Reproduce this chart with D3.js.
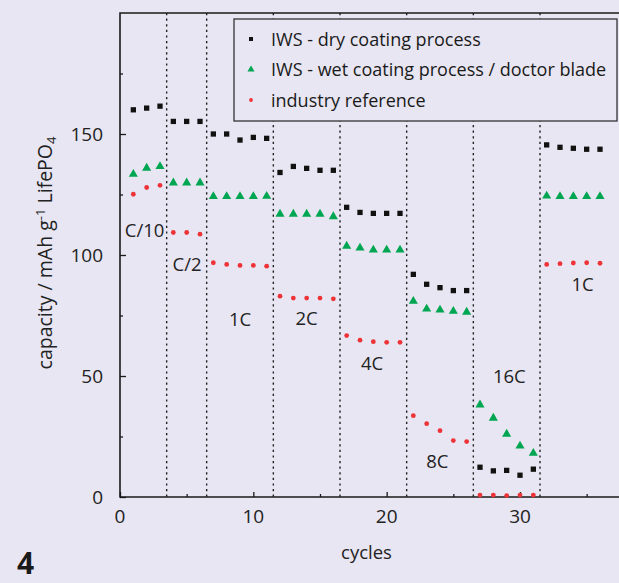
<!DOCTYPE html>
<html>
<head>
<meta charset="utf-8">
<script src="https://cdn.jsdelivr.net/npm/d3@7"></script>
<style>
  body { margin: 0; background: #e8e6f2; }
  svg { display: block; font-family: "Open Sans", sans-serif; }
  .axis path, .axis line { stroke: #1a1a1a; }
</style>
</head>
<body>
<script>
// cycles 1..36, rate steps
var cycles = d3.range(1, 37);
var dryCoating = [160, 160.7, 161.5, 155.2, 155.2, 155.2, 150, 150, 147.5, 148.6, 148.2,
  134.1, 136.6, 135.8, 135, 135, 119.7, 117.6, 117.2, 117.2, 117.2,
  92, 87.9, 86.5, 85.3, 85.3, 12.3, 10.8, 11, 9, 11.5,
  145.5, 144.5, 144.1, 143.7, 143.7];
var wetCoating = [133.4, 135.9, 136.6, 129.8, 129.8, 129.8, 124.2, 124.2, 124.2, 124.2, 124.3,
  116.9, 116.9, 116.9, 116.9, 115.9, 103.7, 102.9, 102.1, 102.1, 102.1,
  80.9, 77.7, 77.3, 76.8, 76.4, 38.1, 32.6, 26, 21.1, 18.1,
  124.4, 124.2, 124.2, 124.2, 124.2];
var industryRef = [125.1, 127.9, 128.8, 109.3, 109.3, 108.6, 96.8, 96.1, 95.7, 95.7, 95.4,
  83.0, 82.2, 82.2, 82.2, 81.9, 66.7, 64.8, 64.2, 63.9, 63.9,
  33.6, 30.3, 27.4, 23.3, 22.9, 0.8, 0.8, 0.6, 0.8, 0.8,
  96.1, 96.4, 96.7, 96.8, 96.6];
var stepBounds = [3.5, 6.5, 11.5, 16.5, 21.5, 26.5, 31.5];
var rateLabels = ["C/10", "C/2", "1C", "2C", "4C", "8C", "16C", "1C"];
var rateLabelX = [1.84, 5.03, 9.0, 14.0, 18.9, 23.8, 29.2, 34.7];
var rateLabelY = [107.3, 93.2, 70.5, 70.9, 52.6, 12.0, 47.2, 85.0];
var xTicks = [0, 10, 20, 30];
var xMinor = [5, 15, 25, 35];
var yTicks = [0, 50, 100, 150];
var yMinor = [25, 75, 125, 175];
var seriesNames = ["IWS - dry coating process", "IWS - wet coating process / doctor blade", "industry reference"];

var W = 619, H = 583;
var margin = {top: 13, left: 120, bottom: 86};

var xScale = d3.scaleLinear().domain([0, 37.5]).range([margin.left, 620]);
var yScale = d3.scaleLinear().domain([0, 200]).range([H - margin.bottom, margin.top]);

var svg = d3.select("body").append("svg")
  .attr("width", W)
  .attr("height", H);

svg.append("rect").attr("width", W).attr("height", H).attr("fill", "#e8e6f2");

// step separators
svg.selectAll(".step")
  .data(stepBounds)
  .enter().append("line")
  .attr("class", "step")
  .attr("x1", function(d) { return xScale(d); })
  .attr("x2", function(d) { return xScale(d); })
  .attr("y1", yScale(200))
  .attr("y2", yScale(0))
  .attr("stroke", "#222")
  .attr("stroke-width", 1.4)
  .attr("stroke-dasharray", "2.2,3.4");

// axes, ticks inward
var xAxis = d3.axisTop(xScale).tickValues(xTicks).tickSize(5).tickFormat("");
var xAxisMinor = d3.axisTop(xScale).tickValues(xMinor).tickSize(3).tickFormat("");
var yAxis = d3.axisRight(yScale).tickValues(yTicks).tickSize(6).tickFormat("");
var yAxisMinor = d3.axisRight(yScale).tickValues(yMinor).tickSize(3).tickFormat("");

var gx = svg.append("g").attr("class", "axis").attr("transform", "translate(0," + yScale(0) + ")");
gx.call(xAxis);
gx.append("g").call(xAxisMinor);
gx.selectAll("path").remove();
gx.selectAll("line").attr("stroke-width", 1.3);

var gy = svg.append("g").attr("class", "axis").attr("transform", "translate(" + xScale(0) + ",0)");
gy.call(yAxis);
gy.append("g").call(yAxisMinor);
gy.selectAll("path").remove();
gy.selectAll("line").attr("stroke-width", 1.3);

// frame lines
svg.append("path")
  .attr("d", "M" + W + "," + yScale(200) + "H" + xScale(0) + "V" + yScale(0) + "H" + W)
  .attr("fill", "none")
  .attr("stroke", "#1a1a1a")
  .attr("stroke-width", 1.6);

// tick labels
svg.selectAll(".xlab")
  .data(xTicks)
  .enter().append("text")
  .attr("x", function(d) { return xScale(d); })
  .attr("y", yScale(0) + 26)
  .attr("text-anchor", "middle")
  .attr("font-size", 19)
  .attr("fill", "#222")
  .text(function(d) { return d; });

svg.selectAll(".ylab")
  .data(yTicks)
  .enter().append("text")
  .attr("x", xScale(0) - 17)
  .attr("y", function(d) { return yScale(d) + 7; })
  .attr("text-anchor", "end")
  .attr("font-size", 19)
  .attr("fill", "#222")
  .text(function(d) { return d; });

// axis titles
svg.append("text")
  .attr("x", xScale(0) + (W - xScale(0)) / 2 - 3)
  .attr("y", 559)
  .attr("text-anchor", "middle")
  .attr("font-size", 18.5)
  .attr("fill", "#222")
  .text("cycles");

var yt = svg.append("text")
  .attr("transform", "translate(52," + (yScale(100) - 2) + ") rotate(-90)")
  .attr("text-anchor", "middle")
  .attr("font-size", 19.5)
  .attr("fill", "#222");
yt.append("tspan").text("capacity / mAh g");
yt.append("tspan").attr("font-size", 13).attr("dy", -7).text("-1");
yt.append("tspan").attr("dy", 7).text(" LifePO");
yt.append("tspan").attr("font-size", 13).attr("dy", 4).text("4");

// rate labels
svg.selectAll(".rate")
  .data(rateLabels)
  .enter().append("text")
  .attr("class", "rate")
  .attr("x", function(d, i) { return xScale(rateLabelX[i]); })
  .attr("y", function(d, i) { return yScale(rateLabelY[i]); })
  .attr("text-anchor", "middle")
  .attr("font-size", 18.5)
  .attr("fill", "#222")
  .text(function(d) { return d; });

// data marks
var sq = d3.symbol().type(d3.symbolSquare).size(28);
var tri = d3.symbol().type(d3.symbolTriangle).size(36);

svg.selectAll(".ind")
  .data(industryRef)
  .enter().append("circle")
  .attr("cx", function(d, i) { return xScale(cycles[i]); })
  .attr("cy", function(d) { return yScale(d); })
  .attr("r", 2.4)
  .attr("fill", "#ee3338");

svg.selectAll(".wet")
  .data(wetCoating)
  .enter().append("path")
  .attr("d", tri)
  .attr("transform", function(d, i) { return "translate(" + xScale(cycles[i]) + "," + yScale(d) + ")"; })
  .attr("fill", "#00a651");

svg.selectAll(".dry")
  .data(dryCoating)
  .enter().append("path")
  .attr("d", sq)
  .attr("transform", function(d, i) { return "translate(" + xScale(cycles[i]) + "," + yScale(d) + ")"; })
  .attr("fill", "#111");

// legend
var lg = svg.append("g").attr("transform", "translate(234,19)");
lg.append("rect")
  .attr("width", 383).attr("height", 102)
  .attr("fill", "#e8e6f2")
  .attr("stroke", "#333")
  .attr("stroke-width", 1.3);

var lgSymbols = [d3.symbol().type(d3.symbolSquare).size(16)(), d3.symbol().type(d3.symbolTriangle).size(22)(), null];
var lgColors = ["#111", "#00a651", "#ee3338"];
var rows = lg.selectAll(".lrow")
  .data(seriesNames)
  .enter().append("g")
  .attr("transform", function(d, i) { return "translate(0," + (20 + i * 30.5) + ")"; });

rows.each(function(d, i) {
  var g = d3.select(this);
  if (i < 2) {
    g.append("path").attr("d", lgSymbols[i]).attr("transform", "translate(17,0)").attr("fill", lgColors[i]);
  } else {
    g.append("circle").attr("cx", 17).attr("r", 1.9).attr("fill", lgColors[i]);
  }
});
rows.append("text")
  .attr("x", 37)
  .attr("y", 6.5)
  .attr("font-size", 18)
  .attr("fill", "#1a1a1a")
  .text(function(d) { return d; });

// figure number
svg.append("text")
  .attr("x", 17)
  .attr("y", 574)
  .attr("font-size", 30)
  .attr("font-weight", "bold")
  .attr("fill", "#1a1a1a")
  .text("4");
</script>
</body>
</html>
